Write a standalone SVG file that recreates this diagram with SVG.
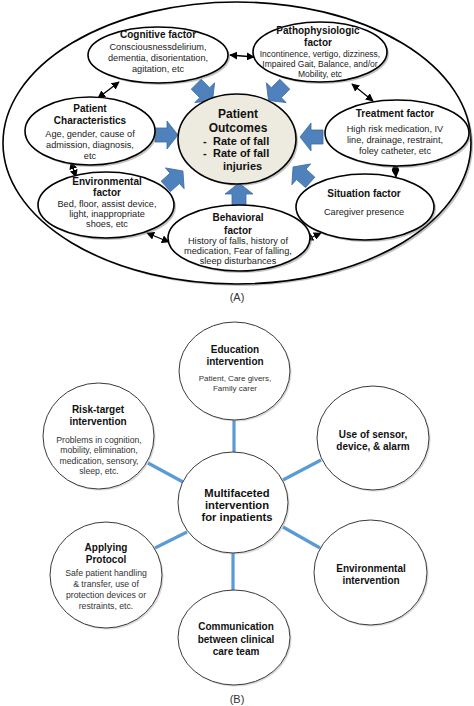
<svg xmlns="http://www.w3.org/2000/svg" width="474" height="706" viewBox="0 0 474 706">
<defs>
<style>
text{font-family:"Liberation Sans",Arial,sans-serif;fill:#111;text-anchor:middle}
.t{font-weight:bold;font-size:10px}
.b{font-size:9.2px;fill:#222}
.po{font-weight:bold;font-size:12px}
.r{font-weight:bold;font-size:11px;text-anchor:start}
.el{fill:#fff;stroke:#000;stroke-width:1.6}
.sh{fill:#777;opacity:0.45}
.ba{fill:#4f81bd;stroke:#3d6ba3;stroke-width:0.8}
.da{fill:none;stroke:#000;stroke-width:1.3;marker-start:url(#ah);marker-end:url(#ah)}
.ci{fill:#fff;stroke:#3a3a3a;stroke-width:1}
.cs{fill:#999;opacity:0.35}
.bl{stroke:#5b9bd5;stroke-width:3.2;fill:none}
.bt{font-weight:bold;font-size:10px}
.bb{font-size:8.7px;fill:#333}
.cap{font-size:11px;fill:#333}
</style>
<marker id="ah" viewBox="0 0 10 10" refX="9" refY="5" markerWidth="8" markerHeight="8" markerUnits="userSpaceOnUse" orient="auto-start-reverse"><path d="M0,0 L10,5 L0,10 Z" fill="#000"/></marker>
<path id="barrow" d="M-11,-7 L1,-7 L1,-14 L12,0 L1,14 L1,7 L-11,7 Z"/>
</defs>

<!-- Part A -->
<g id="outer">
<ellipse class="sh" cx="239" cy="145" rx="234" ry="141"/>
<ellipse cx="237" cy="143" rx="234" ry="141" fill="#fff" stroke="#000" stroke-width="1.6"/>
</g>

<g id="connectors-a">
<use href="#barrow" class="ba" transform="translate(204,92) rotate(45)"/>
<use href="#barrow" class="ba" transform="translate(277,92) rotate(135)"/>
<use href="#barrow" class="ba" transform="translate(166,135)"/>
<use href="#barrow" class="ba" transform="translate(312,137) rotate(180)"/>
<use href="#barrow" class="ba" transform="translate(174,179) rotate(-42)"/>
<use href="#barrow" class="ba" transform="translate(302,175) rotate(-138)"/>
<use href="#barrow" class="ba" transform="translate(239,195) rotate(-90)"/>
<line class="da" x1="230" y1="55" x2="254" y2="57"/>
<line class="da" x1="119" y1="82" x2="98" y2="98"/>
<line class="da" x1="352" y1="84" x2="373" y2="101"/>
<line class="da" x1="71" y1="162" x2="76" y2="177"/>
<line class="da" x1="147" y1="233" x2="169" y2="242"/>
<line class="da" x1="395" y1="163" x2="396" y2="177"/>
<line class="da" x1="306" y1="240" x2="321" y2="233"/>
</g>

<g id="outcomes">
<ellipse class="sh" cx="239" cy="141" rx="59" ry="45"/>
<ellipse cx="237" cy="139" rx="59" ry="45" fill="#edeadf" stroke="#000" stroke-width="1.6"/>
<text class="po" x="238" y="118">Patient</text>
<text class="po" x="238" y="132">Outcomes</text>
<text class="r" x="203" y="145">-</text><text class="r" x="213" y="145">Rate of fall</text>
<text class="r" x="203" y="157">-</text><text class="r" x="213" y="157">Rate of fall</text>
<text class="r" x="223" y="170">injuries</text>
</g>

<g id="cognitive">
<ellipse class="sh" cx="160" cy="57" rx="70" ry="28"/>
<ellipse class="el" cx="158" cy="55" rx="70" ry="28"/>
<text class="t" x="158" y="38">Cognitive factor</text>
<text class="b" x="158" y="50">Consciousnessdelirium,</text>
<text class="b" x="158" y="61">dementia, disorientation,</text>
<text class="b" x="158" y="72">agitation, etc</text>
</g>

<g id="patho">
<ellipse class="sh" cx="322" cy="54" rx="67" ry="30"/>
<ellipse class="el" cx="320" cy="52" rx="67" ry="30"/>
<text class="t" x="318" y="34">Pathophysiologic</text>
<text class="t" x="318" y="46">factor</text>
<text class="b" x="320" y="57" style="font-size:8.5px">Incontinence, vertigo, dizziness,</text>
<text class="b" x="320" y="67" style="font-size:8.5px">Impaired Gait, Balance, and/or</text>
<text class="b" x="320" y="77" style="font-size:8.5px">Mobility, etc</text>
</g>

<g id="patient-char">
<ellipse class="sh" cx="92" cy="133" rx="65" ry="34"/>
<ellipse class="el" cx="90" cy="131" rx="65" ry="34"/>
<text class="t" x="90" y="112">Patient</text>
<text class="t" x="90" y="124">Characteristics</text>
<text class="b" x="90" y="137">Age, gender, cause of</text>
<text class="b" x="90" y="148">admission, diagnosis,</text>
<text class="b" x="90" y="159">etc</text>
</g>

<g id="treatment">
<ellipse class="sh" cx="399" cy="135" rx="72" ry="33"/>
<ellipse class="el" cx="397" cy="133" rx="72" ry="33"/>
<text class="t" x="395" y="117">Treatment factor</text>
<text class="b" x="395" y="132">High risk medication, IV</text>
<text class="b" x="395" y="143">line, drainage, restraint,</text>
<text class="b" x="395" y="154">foley catheter, etc</text>
</g>

<g id="environmental">
<ellipse class="sh" cx="108" cy="207" rx="68" ry="33"/>
<ellipse class="el" cx="106" cy="205" rx="68" ry="33"/>
<text class="t" x="107" y="185">Environmental</text>
<text class="t" x="107" y="196">factor</text>
<text class="b" x="107" y="207">Bed, floor, assist device,</text>
<text class="b" x="107" y="217">light, inappropriate</text>
<text class="b" x="107" y="227">shoes, etc</text>
</g>

<g id="situation">
<ellipse class="sh" cx="367" cy="209" rx="69" ry="33"/>
<ellipse class="el" cx="365" cy="207" rx="69" ry="33"/>
<text class="t" x="364" y="197">Situation factor</text>
<text class="b" x="364" y="215">Caregiver presence</text>
</g>

<g id="behavioral">
<ellipse class="sh" cx="241" cy="240" rx="71" ry="33"/>
<ellipse class="el" cx="239" cy="238" rx="71" ry="33"/>
<text class="t" x="238" y="221">Behavioral</text>
<text class="t" x="238" y="234">factor</text>
<text class="b" x="238" y="244">History of falls, history of</text>
<text class="b" x="238" y="254">medication, Fear of falling,</text>
<text class="b" x="238" y="264">sleep disturbances</text>
</g>

<text class="cap" x="237" y="301">(A)</text>

<!-- Part B -->
<g id="connectors-b">
<line class="bl" x1="234" y1="420" x2="234" y2="453"/>
<line class="bl" x1="183" y1="482" x2="148" y2="463"/>
<line class="bl" x1="187" y1="532" x2="155" y2="548"/>
<line class="bl" x1="283" y1="480" x2="321" y2="460"/>
<line class="bl" x1="283" y1="527" x2="320" y2="548"/>
<line class="bl" x1="233" y1="553" x2="233" y2="591"/>
</g>

<g id="education">
<ellipse class="cs" cx="236" cy="372.5" rx="55.5" ry="49"/>
<ellipse class="ci" cx="234.5" cy="371" rx="55.5" ry="49"/>
<text class="bt" x="235" y="353">Education</text>
<text class="bt" x="235" y="365">intervention</text>
<text class="bb" x="235" y="381" style="font-size:8px">Patient, Care givers,</text>
<text class="bb" x="235" y="391" style="font-size:8px">Family carer</text>
</g>

<g id="risk-target">
<ellipse class="cs" cx="100" cy="437.5" rx="55.5" ry="53"/>
<ellipse class="ci" cx="98.5" cy="436" rx="55.5" ry="53"/>
<text class="bt" x="98" y="413">Risk-target</text>
<text class="bt" x="98" y="425">intervention</text>
<text class="bb" x="99" y="443">Problems in cognition,</text>
<text class="bb" x="99" y="453">mobility, elimination,</text>
<text class="bb" x="99" y="464">medication, sensory,</text>
<text class="bb" x="99" y="474">sleep, etc.</text>
</g>

<g id="sensor">
<ellipse class="cs" cx="374.5" cy="439.5" rx="56" ry="52"/>
<ellipse class="ci" cx="373" cy="438" rx="56" ry="52"/>
<text class="bt" x="373" y="438">Use of sensor,</text>
<text class="bt" x="373" y="450">device, &amp; alarm</text>
</g>

<g id="multifaceted">
<ellipse class="cs" cx="234.5" cy="504" rx="55" ry="50.5"/>
<ellipse class="ci" cx="233" cy="502.5" rx="55" ry="50.5"/>
<text class="bt" x="237" y="497" style="font-size:11.2px">Multifaceted</text>
<text class="bt" x="237" y="509" style="font-size:11.2px">intervention</text>
<text class="bt" x="237" y="521" style="font-size:11.2px">for inpatients</text>
</g>

<g id="env-intervention">
<ellipse class="cs" cx="372" cy="574" rx="56.5" ry="52.5"/>
<ellipse class="ci" cx="370.5" cy="572.5" rx="56.5" ry="52.5"/>
<text class="bt" x="371" y="572">Environmental</text>
<text class="bt" x="371" y="584">intervention</text>
</g>

<g id="protocol">
<ellipse class="cs" cx="107.5" cy="576.5" rx="56" ry="53"/>
<ellipse class="ci" cx="106" cy="575" rx="56" ry="53"/>
<text class="bt" x="106" y="551">Applying</text>
<text class="bt" x="106" y="563">Protocol</text>
<text class="bb" x="106" y="576">Safe patient handling</text>
<text class="bb" x="106" y="587">&amp; transfer, use of</text>
<text class="bb" x="106" y="598">protection devices or</text>
<text class="bb" x="106" y="609">restraints, etc.</text>
</g>

<g id="communication">
<ellipse class="cs" cx="235.5" cy="639" rx="56" ry="47.5"/>
<ellipse class="ci" cx="234" cy="637.5" rx="56" ry="47.5"/>
<text class="bt" x="236" y="630">Communication</text>
<text class="bt" x="236" y="643">between clinical</text>
<text class="bt" x="236" y="655">care team</text>
</g>

<text class="cap" x="237" y="703">(B)</text>
</svg>
